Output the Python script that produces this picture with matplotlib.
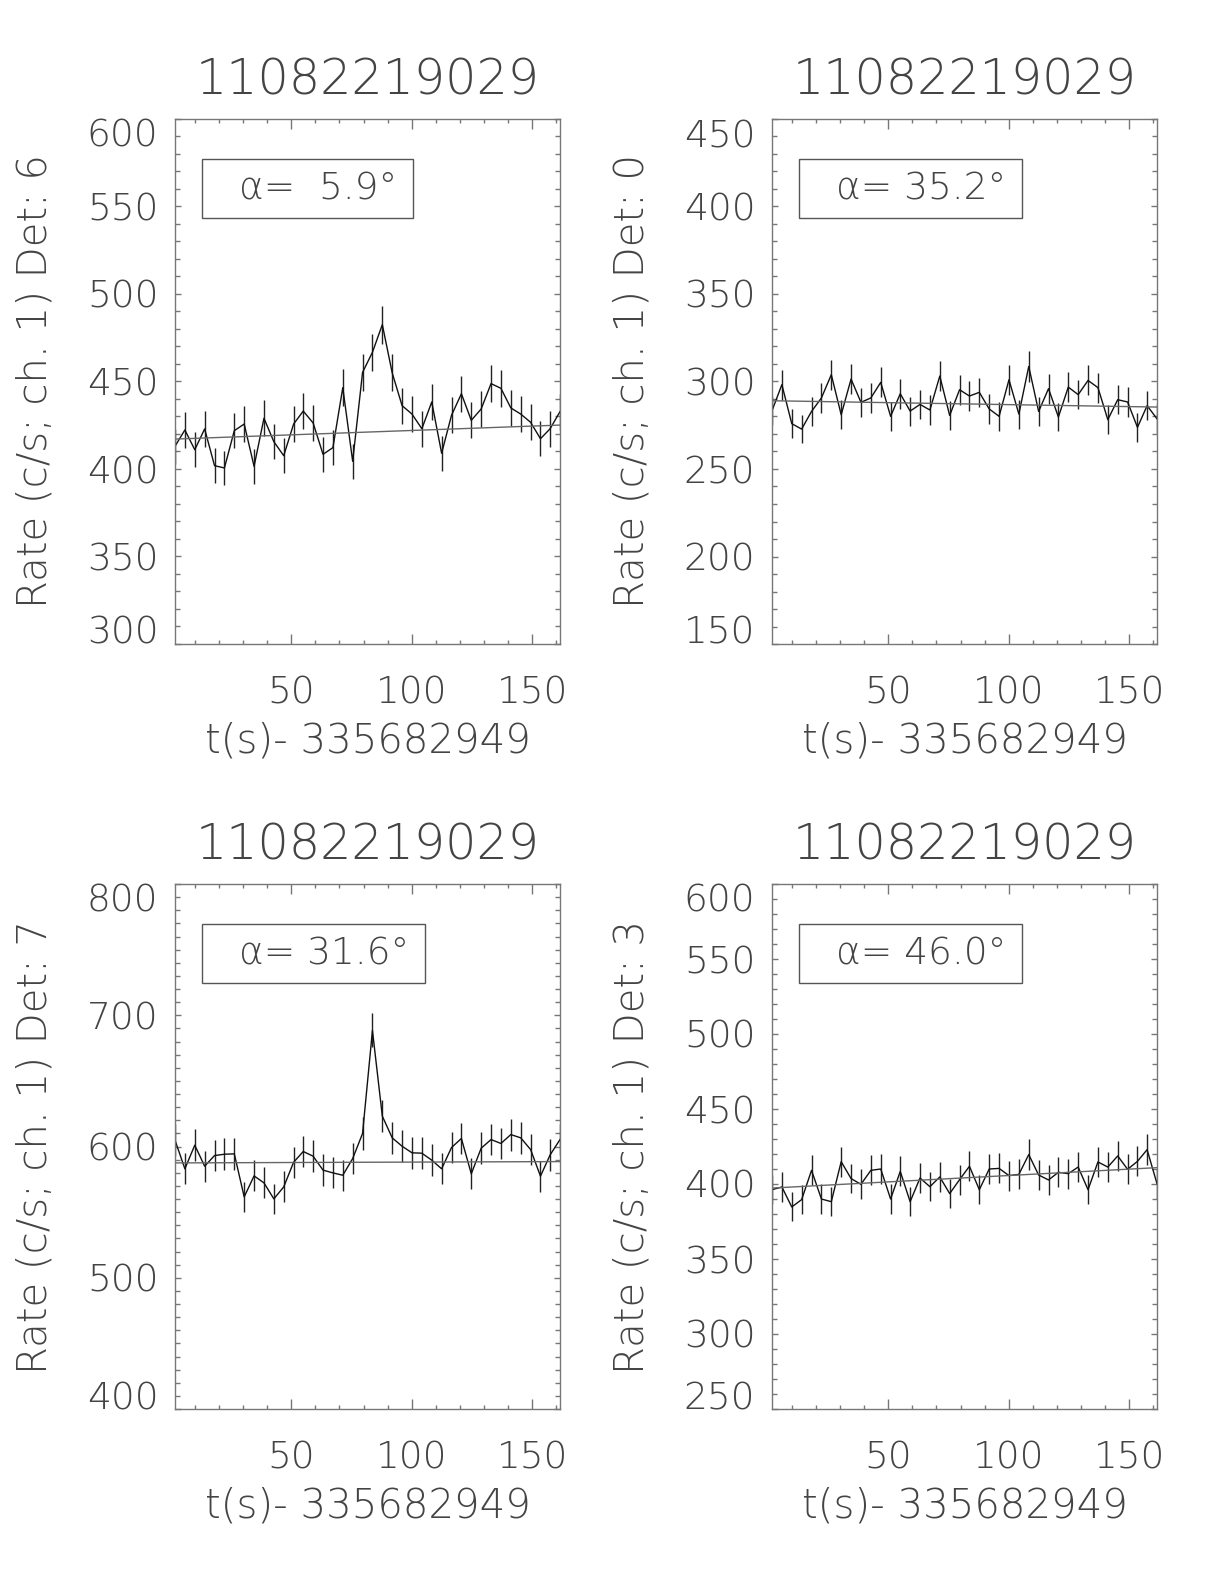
import matplotlib
matplotlib.use("Agg")
import matplotlib.pyplot as plt
import numpy as np
from matplotlib import font_manager as fm
from matplotlib.patches import Rectangle

# time bins (s after 335682949), 4.096 s each
t = [1.8, 5.9, 10.0, 14.1, 18.2, 22.3, 26.4, 30.5, 34.6, 38.7,
     42.8, 46.9, 51.0, 55.0, 59.1, 63.2, 67.3, 71.4, 75.5, 79.6,
     83.7, 87.8, 91.9, 96.0, 100.1, 104.2, 108.3, 112.4, 116.5, 120.6,
     124.7, 128.8, 132.9, 137.0, 141.1, 145.2, 149.3, 153.4, 157.4, 161.5]
BIN = 4.096

burst = "11082219029"
t_label = "t(s)- 335682949"

det6 = [413.0, 422.3, 411.0, 422.9, 401.9, 400.6, 421.9, 425.7, 401.5, 429.0,
        415.6, 407.6, 425.7, 433.1, 426.3, 408.4, 412.2, 446.5, 404.4, 455.2,
        466.7, 482.5, 454.9, 436.2, 431.4, 423.0, 438.3, 409.0, 430.7, 443.0,
        427.8, 434.3, 448.8, 446.1, 434.9, 431.4, 426.7, 417.3, 423.0, 432.8]
det0 = [283.3, 298.2, 275.9, 272.8, 282.9, 290.6, 303.9, 281.0, 301.4, 288.1,
        290.6, 299.5, 280.1, 293.0, 283.1, 286.9, 283.7, 303.1, 280.6, 295.3,
        291.7, 293.8, 284.3, 280.1, 301.0, 281.4, 308.6, 282.9, 295.9, 279.7,
        296.8, 292.5, 300.6, 296.5, 278.2, 289.6, 288.3, 273.8, 286.2, 278.7]
det7 = [604.8, 583.0, 601.0, 585.0, 593.1, 594.1, 594.4, 561.6, 577.6, 572.3,
        560.1, 569.2, 588.0, 596.2, 592.6, 582.0, 579.9, 578.1, 590.8, 609.9,
        688.4, 623.1, 606.6, 600.2, 595.2, 594.9, 589.6, 583.0, 599.2, 606.1,
        579.2, 598.7, 605.3, 602.3, 609.1, 606.6, 597.7, 577.4, 593.6, 605.3]
det3 = [396.2, 398.0, 384.7, 389.6, 409.1, 390.0, 388.2, 414.9, 403.6, 399.8,
        409.1, 410.0, 390.0, 408.4, 388.2, 404.0, 398.2, 404.7, 393.6, 402.9,
        411.8, 396.2, 410.0, 410.4, 405.6, 406.4, 419.6, 406.0, 402.7, 407.8,
        406.9, 411.3, 396.2, 414.7, 411.3, 418.7, 409.8, 415.1, 422.9, 400.2]

dets = [6, 0, 7, 3]
rates = [det6, det0, det7, det3]
angles = [5.9, 35.2, 31.6, 46.0]
fit_start = [417.1, 289.0, 587.5, 397.3]
fit_end = [425.1, 285.4, 588.5, 410.9]
ylims = [(300, 600), (150, 450), (400, 800), (250, 600)]
ystep = [50, 50, 100, 50]

# look for a thin face, the original is a stroke font (wide fonts first)
fam, wt = "DejaVu Sans", 400
found = False
for name in ["DejaVu Sans", "Open Sans", "Noto Sans", "Roboto", "Lato", "Inter"]:
    for f in fm.fontManager.ttflist:
        w = f.weight
        if isinstance(w, str):
            w = fm.weight_dict.get(w, 400)
        if f.name == name and w <= 300 and f.style == "normal":
            fam, wt = name, w
            found = True
            break
    if found:
        break

plt.rcParams["font.family"] = [fam, "DejaVu Sans"]
plt.rcParams["font.weight"] = wt

TXT = "#444444"
AX = "#777777"

fig = plt.figure(figsize=(12.24, 15.84), dpi=100)
W, H = 1224, 1584
# axes boxes in pixels: left, top
boxes = [(175, 119), (772, 119), (175, 884), (772, 884)]
aw, ah = 385, 525

axes = []
for k in range(4):
    l, top = boxes[k]
    ax = fig.add_axes([l / W, (H - top - ah) / H, aw / W, ah / H])
    axes.append(ax)
    y = np.array(rates[k])
    err = np.sqrt(y / BIN)  # counting error
    ax.vlines(t, y - err, y + err, color="#222222", lw=1.0)
    ax.plot(t, y, color="#111111", lw=1.0)
    ax.plot([t[0], t[-1]], [fit_start[k], fit_end[k]], color="#666666", lw=1.0)

    ax.set_xlim(t[0], t[-1])
    ax.set_ylim(*ylims[k])
    ax.set_xticks([50, 100, 150])
    ax.set_xticks(np.arange(10, 161, 10), minor=True)
    lo, hi = ylims[k]
    ax.set_yticks(np.arange(lo, hi + 1, ystep[k]))
    ax.set_yticks(np.arange(lo, hi + 1, 10), minor=True)
    ax.tick_params(axis="both", which="both", direction="in", top=True, right=True,
                   color=AX, width=1.0, labelcolor=TXT, labelsize=27)
    ax.tick_params(axis="x", which="major", length=7, pad=23)
    ax.tick_params(axis="x", which="minor", length=3)
    ax.tick_params(axis="y", which="major", length=4.5, pad=12)
    ax.tick_params(axis="y", which="minor", length=3.5)
    for s in ax.spines.values():
        s.set_color(AX)
        s.set_linewidth(1.0)

    ax.text(0.5, 1.074, burst, transform=ax.transAxes, ha="center", va="center",
            fontsize=35.5, color=TXT)
    ax.text(0.5, -0.185, t_label, transform=ax.transAxes, ha="center", va="center",
            fontsize=29, color=TXT)
    ax.text(-0.364, 0.5, "Rate (c/s; ch. 1) Det: %d" % dets[k], transform=ax.transAxes,
            ha="center", va="center", rotation=90, fontsize=29, color=TXT)

lbls = []
for k, ax in enumerate(axes):
    lb = ax.text(0.166, 0.8675, "α= %4.1f°" % angles[k], transform=ax.transAxes,
                 ha="left", va="center", fontsize=27, color=TXT)
    lbls.append(lb)

fig.canvas.draw()
for k, ax in enumerate(axes):
    bb = lbls[k].get_window_extent().transformed(ax.transAxes.inverted())
    ax.add_patch(Rectangle((0.07, 0.811), bb.x1 + 16 / aw - 0.07, 0.113,
                           transform=ax.transAxes, fill=False, ec="#555555", lw=1.0))
    ylab = ax.get_yticklabels()
    ylab[0].set_va("baseline")
    ylab[-1].set_va("top")

fig.savefig("out.png", dpi=100, facecolor="white")
